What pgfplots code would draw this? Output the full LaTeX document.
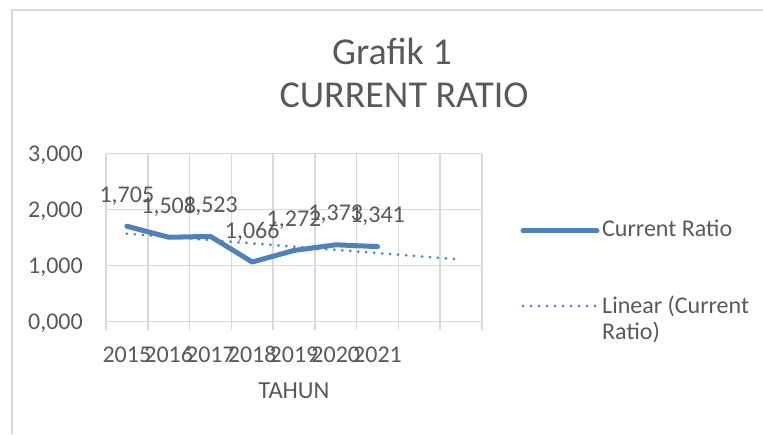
\documentclass[border=0pt]{standalone}
\usepackage{pgfplots}
\pgfplotsset{compat=1.18}
\usepackage{fontspec}
\setmainfont{Carlito}
\definecolor{txt}{HTML}{595959}
\definecolor{gridc}{HTML}{D9D9D9}
\definecolor{crblue}{HTML}{4F81BD}
\begin{document}
\begin{tikzpicture}[x=1pt,y=1pt]
\path[use as bounding box] (0,0) rectangle (763,434);
\draw[gridc, line width=2pt] (12,0) -- (12,424) -- (764,424);
\begin{axis}[
  scale only axis, width=376pt, height=168pt,
  anchor=south west, at={(106pt,112.3pt)},
  xmin=-0.5, xmax=8.5, ymin=0, ymax=3,
  xtick={0,1,2,3,4,5,6},
  xticklabels={2015,2016,2017,2018,2019,2020,2021},
  minor xtick={-0.5,0.5,1.5,2.5,3.5,4.5,5.5,6.5,7.5,8.5},
  ytick={0,1,2,3},
  xtick pos=bottom, ytick pos=left,
  major tick length=0pt, minor tick length=8pt, tick align=outside,
  xminorgrids, ymajorgrids,
  major grid style={gridc, line width=1.5pt},
  minor grid style={gridc, line width=1.5pt},
  minor tick style={gridc, line width=1.5pt},
  axis line style={draw=none},
  clip=false,
  /pgf/number format/.cd, fixed, fixed zerofill, precision=3, use comma, assume math mode=true,
  /pgfplots/.cd,
  xticklabel style={font=\fontsize{24}{28}\selectfont, text=txt, anchor=base, inner sep=0pt, yshift=-40.3pt},
  yticklabel style={font=\fontsize{24}{28}\selectfont, text=txt, anchor=base east, inner sep=0pt, xshift=-23pt, yshift=-8pt},
  xlabel={TAHUN},
  xlabel style={font=\fontsize{24.5}{28}\selectfont, text=txt, at={(axis description cs:0.5,0)}, anchor=base, inner sep=0pt, yshift=-76.3pt},
]
\addplot[crblue, line width=5pt, line join=round, line cap=round,
  nodes near coords,
  every node near coord/.append style={font=\fontsize{24}{28}\selectfont, text=txt, anchor=base, inner sep=0pt, yshift=24pt}]
  coordinates {(0,1.705) (1,1.508) (2,1.523) (3,1.066) (4,1.272) (5,1.373) (6,1.341)};
\addplot[crblue, line width=3pt, line cap=round, dash pattern=on 0pt off 8pt]
  coordinates {(0,1.5711) (8,1.1102)};
\end{axis}
\draw[crblue, line width=5pt, line cap=round] (523,203) -- (597,203);
\node[anchor=base west, inner sep=0pt, font=\fontsize{24}{28}\selectfont, text=txt] at (602,197) {Current Ratio};
\draw[crblue, line width=3pt, line cap=round, dash pattern=on 0pt off 8pt] (523,128) -- (595,128);
\node[anchor=base west, inner sep=0pt, font=\fontsize{24}{28}\selectfont, text=txt] at (602,121) {Linear (Current};
\node[anchor=base west, inner sep=0pt, font=\fontsize{24}{28}\selectfont, text=txt] at (602,94) {Ratio)};
\node[anchor=base, inner sep=0pt, font=\fontsize{38}{45}\selectfont, text=txt] at (392,369) {Grafik 1};
\node[anchor=base, inner sep=0pt, font=\fontsize{38}{45}\selectfont, text=txt] at (404,326) {CURRENT RATIO};
\end{tikzpicture}
\end{document}
